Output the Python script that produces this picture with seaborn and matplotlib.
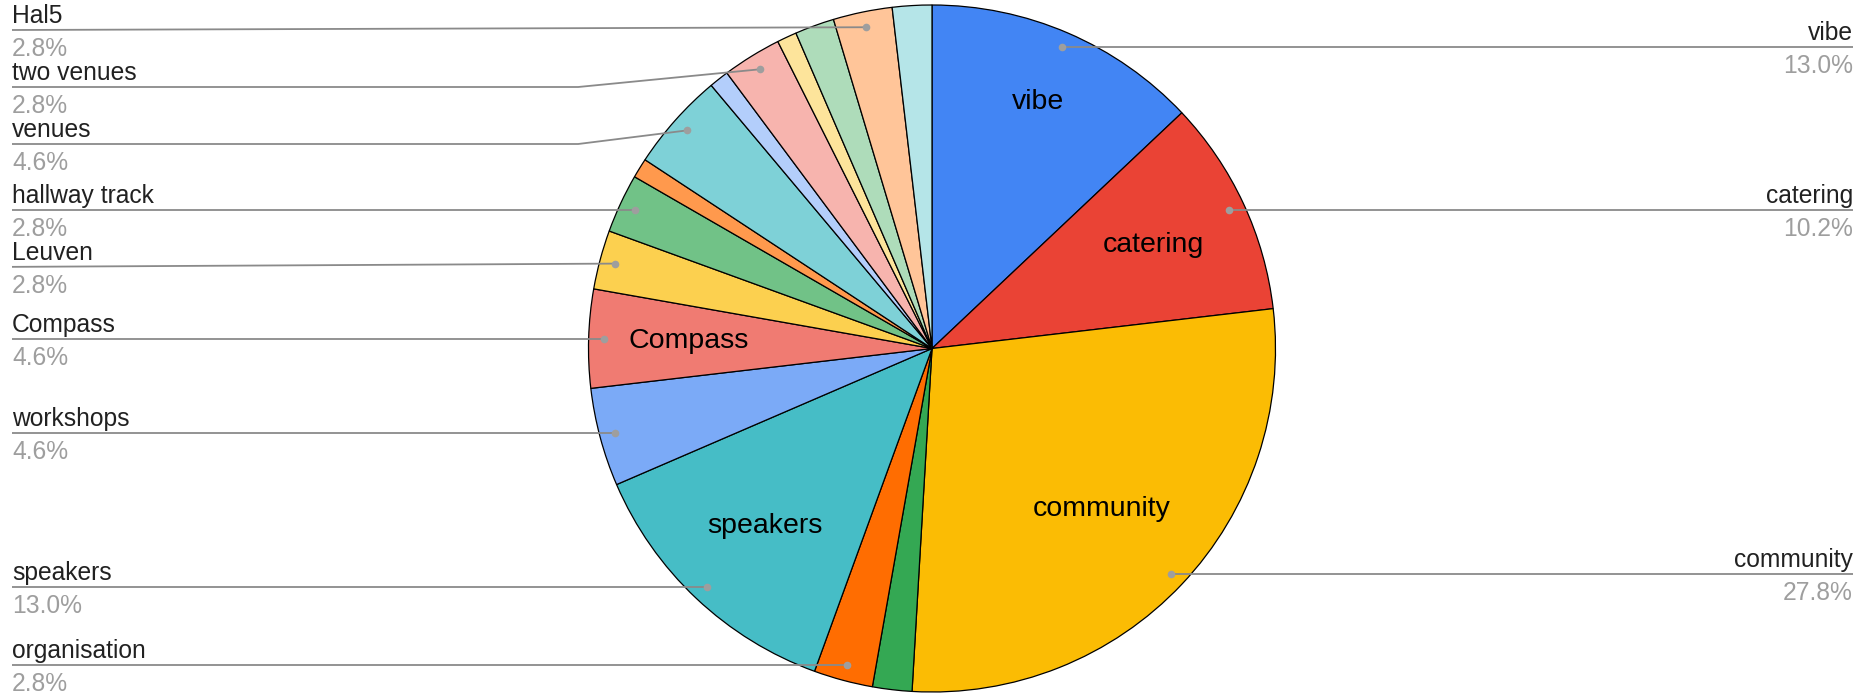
import numpy as np
import matplotlib
matplotlib.use('Agg')
import matplotlib.pyplot as plt
import seaborn as sns

# --- Data ---
categories = ['vibe', 'catering', 'community', 'slice 4', 'organisation', 'speakers',
              'workshops', 'Compass', 'Leuven', 'hallway track', 'slice 11', 'venues',
              'slice 13', 'two venues', 'slice 15', 'slice 16', 'Hal5', 'slice 18']
counts = [14, 11, 30, 2, 3, 14, 5, 5, 3, 3, 1, 5, 1, 3, 1, 2, 3, 2]
colors = ['#4285F4', '#EA4335', '#FBBC04', '#34A853', '#FF6D01', '#46BDC6',
          '#7BAAF7', '#F07B72', '#FCD04F', '#71C287', '#FF994D', '#7ED1D7',
          '#B3CEFB', '#F7B4AE', '#FDE49B', '#AEDCBA', '#FFC599', '#B5E5E8']
inside_labels = ['vibe', 'catering', 'community', 'speakers', 'Compass']
min_label_pct = 2.5

# --- Style ---
sns.set_theme(style='white')
plt.rcParams['font.family'] = ['Liberation Sans', 'DejaVu Sans']

W, H = 1862, 693
cx, cy, R = 932, 348.5, 343.5   # pixel units, y measured from top
inside_r = {'vibe': 0.78, 'community': 0.68}   # label radius tweaks, default 0.71


def py(y):
    return H - y


fig = plt.figure(figsize=(W / 100, H / 100), dpi=100)
ax = fig.add_axes([0, 0, 1, 1])

ax.pie(counts, colors=colors, startangle=90, counterclock=False,
       center=(cx, py(cy)), radius=R,
       wedgeprops=dict(edgecolor='black', linewidth=0.9))
ax.set_xlim(0, W)
ax.set_ylim(0, H)
ax.set_aspect('auto')
ax.axis('off')

total = sum(counts)
pcts = [c / total * 100 for c in counts]
cum = np.cumsum([0] + counts)
mids = [(cum[i] + counts[i] / 2) / total * 360 for i in range(len(counts))]

# inside labels
for name, m in zip(categories, mids):
    if name in inside_labels:
        t = np.radians(m)
        r = inside_r.get(name, 0.71) * R
        x = cx + r * np.sin(t)
        y = cy - r * np.cos(t)
        ax.text(x, py(y), name, fontsize=20.5, ha='center', va='center', color='black')

# outside labels with leader lines
line_col = '#8a8a8a'
dot_r = 0.955 * R
gap = 57
top_min = 30
left, right = [], []
for name, p, m in zip(categories, pcts, mids):
    if p < min_label_pct:
        continue
    t = np.radians(m)
    dx = cx + dot_r * np.sin(t)
    dy = cy - dot_r * np.cos(t)
    (left if dx < cx else right).append([name, p, dx, dy])

for side in (left, right):
    side.sort(key=lambda r: r[3])
    prev = top_min - gap
    for item in side:
        ly = max(item[3], prev + gap)
        item.append(ly)
        prev = ly

elbow_l = cx - 1.03 * R
for name, p, dx, dy, ly in left:
    if abs(ly - dy) > 4:
        xs = [12, elbow_l, dx]
        ys = [ly, ly, dy]
    else:
        xs = [12, dx]
        ys = [ly, dy]
    ax.plot(xs, [py(v) for v in ys], color=line_col, lw=1.3, solid_capstyle='butt')
    ax.plot(dx, py(dy), 'o', ms=5.5, color='#9e9e9e', mec='none', zorder=5)
    ax.text(12, py(ly - 7), name, fontsize=17.7, ha='left', va='baseline', color='#212121')
    ax.text(12, py(ly + 26), f'{p:.1f}%', fontsize=17.7, ha='left', va='baseline', color='#9e9e9e')

for name, p, dx, dy, ly in right:
    ax.plot([dx, 1853], [py(dy), py(ly)], color=line_col, lw=1.3, solid_capstyle='butt')
    ax.plot(dx, py(dy), 'o', ms=5.5, color='#9e9e9e', mec='none', zorder=5)
    ax.text(1853, py(ly - 7), name, fontsize=17.7, ha='right', va='baseline', color='#212121')
    ax.text(1853, py(ly + 26), f'{p:.1f}%', fontsize=17.7, ha='right', va='baseline', color='#9e9e9e')

fig.savefig('out.png', dpi=100, facecolor='white')
